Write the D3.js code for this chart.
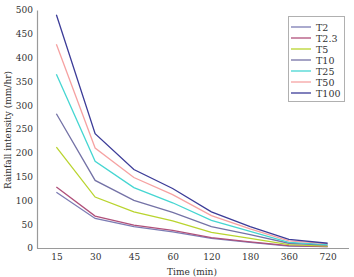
<!DOCTYPE html>
<html>
<head>
<meta charset="utf-8">
<script src="https://cdn.jsdelivr.net/npm/d3@7"></script>
<style>
  body { margin: 0; background: #fff; }
  text { font-family: "DejaVu Serif", "Liberation Serif", serif; fill: #333; }
</style>
</head>
<body>
<div id="chart"></div>
<script>
// durations (x categories)
var times = ['15', '30', '45', '60', '120', '180', '360', '720'];
var yTicks = [0, 50, 100, 150, 200, 250, 300, 350, 400, 450, 500];

// return periods and intensities (mm/hr)
var names = ['T2', 'T2.3', 'T5', 'T10', 'T25', 'T50', 'T100'];
var colors = ['#7c7cb4', '#b0507a', '#b9d42e', '#7472a6', '#46d6d2', '#f6a2a2', '#3c3c98'];
var T2   = [117, 62, 45, 34, 20, 12, 4, 3];
var T2_3 = [128, 67, 48, 37, 22, 13, 5, 3];
var T5   = [212, 107, 76, 57, 33, 20, 7, 4];
var T10  = [282, 142, 100, 75, 45, 28, 10, 6];
var T25  = [365, 182, 127, 95, 58, 35, 12, 7];
var T50  = [428, 210, 148, 112, 68, 40, 15, 9];
var T100 = [490, 240, 165, 125, 76, 45, 18, 10];
var series = [T2, T2_3, T5, T10, T25, T50, T100];

var width = 354, height = 277;
var svg = d3.select('#chart').append('svg')
  .attr('width', width)
  .attr('height', height);

var x = d3.scalePoint().domain(times).range([37, 347]).padding(0.5);
var y = d3.scaleLinear().domain([0, 500]).range([248, 10]);

// axes
var gx = svg.append('g').attr('transform', 'translate(0,248)')
  .call(d3.axisBottom(x).tickSize(0).tickPadding(6));
var gy = svg.append('g').attr('transform', 'translate(37,0)')
  .call(d3.axisLeft(y).tickValues(yTicks).tickSize(0).tickPadding(4));
[gx, gy].forEach(function(g) {
  g.select('.domain').attr('stroke', '#9a9a9a').attr('stroke-width', 1.2);
  g.selectAll('text').style('font-size', '9px').style('font-family', '"DejaVu Serif", serif').attr('fill', '#333');
});
gx.select('.domain').attr('d', 'M37,0.5H349');

// lines
var line = d3.line()
  .x(function(d, i) { return x(times[i]); })
  .y(function(d) { return y(d); });

svg.append('g').selectAll('path')
  .data(series)
  .enter()
  .append('path')
  .attr('fill', 'none')
  .attr('stroke', function(d, i) { return colors[i]; })
  .attr('stroke-width', 1.3)
  .attr('d', line);

// axis titles
svg.append('text')
  .attr('x', 192).attr('y', 275)
  .attr('text-anchor', 'middle')
  .style('font-size', '9px')
  .text('Time (min)');
svg.append('text')
  .attr('transform', 'translate(11,130) rotate(-90)')
  .attr('text-anchor', 'middle')
  .style('font-size', '9px')
  .text('Rainfall intensity (mm/hr)');

// legend
var lg = svg.append('g');
lg.append('rect')
  .attr('x', 288.5).attr('y', 16.5)
  .attr('width', 56).attr('height', 85)
  .attr('fill', '#fff')
  .attr('stroke', '#b0b0b0');
names.forEach(function(n, i) {
  var ly = 27 + i * 11;
  lg.append('line')
    .attr('x1', 291).attr('x2', 311)
    .attr('y1', ly).attr('y2', ly)
    .attr('stroke', colors[i]).attr('stroke-width', 1.3);
  lg.append('text')
    .attr('x', 316).attr('y', ly + 3.5)
    .style('font-size', '9.5px')
    .text(n);
});
</script>
</body>
</html>
